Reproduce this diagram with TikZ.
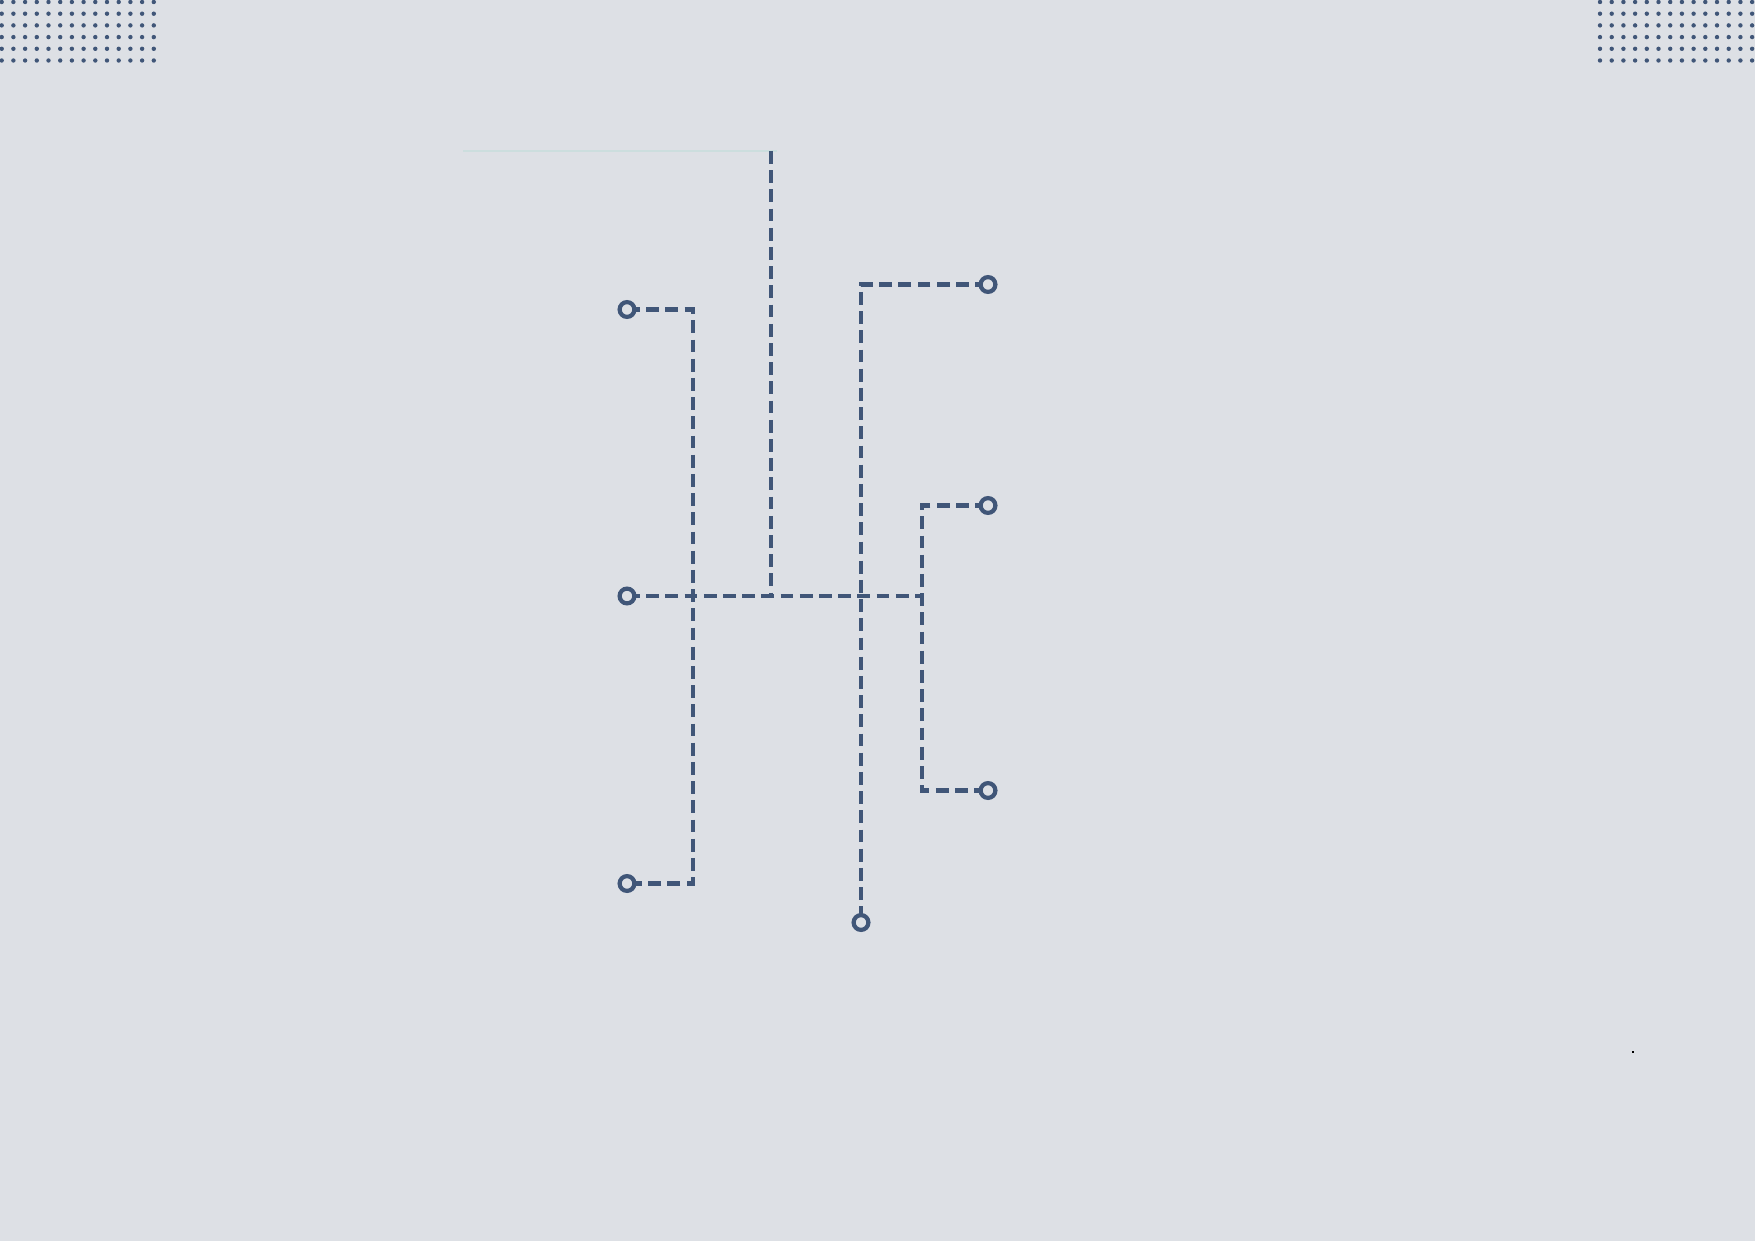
\documentclass[tikz,border=0pt]{standalone}
\definecolor{bg}{RGB}{221,224,229}
\definecolor{ink}{RGB}{64,86,120}
\definecolor{faint}{RGB}{204,222,222}
\tikzset{
  wire/.style={draw=ink, line width=2.1pt, dash pattern=on 6.4pt off 3.2pt},
  port/.style={circle, draw=ink, fill=bg, line width=2.1pt, minimum size=7.4pt, inner sep=0pt, outer sep=0pt},
  dotc/.style={fill=ink}
}
\begin{document}
\begin{tikzpicture}[x=0.5pt, y=-0.5pt]
  \fill[bg] (0,0) rectangle (1755,1241);
  \useasboundingbox (0,0) rectangle (1755,1241);
  % dot grids
  \foreach \i in {0,...,13} {
    \foreach \j in {0,...,5} {
      \fill[dotc] ({1.7+11.7*\i},{2+11.7*\j}) circle (1.1pt);
      \fill[dotc] ({1600+11.7*\i},{2+11.7*\j}) circle (1.1pt);
    }
  }
  % faint top line
  \draw[faint, line width=0.7pt] (463,151) -- (777,151);
  % coordinates
  \coordinate (top) at (771,151);
  \coordinate (tb) at (771,596);
  \coordinate (L1) at (693,309.5);
  \coordinate (L3) at (693,883.5);
  \coordinate (R1) at (922,505.5);
  \coordinate (R2) at (922,596);
  \coordinate (R3) at (922,790.5);
  \coordinate (M1) at (861,284.5);
  % wires (drawn first, ports on top)
  \draw[wire] (627,309.5) -- (L1) -- (L3) -- (627,883.5);
  \draw[wire] (627,596) -- (R2);
  \draw[wire] (988,505.5) -- (R1) -- (R3) -- (988,790.5);
  \draw[wire] (top) -- (tb);
  \draw[wire] (988,284.5) -- (M1) -- (861,922.5);
  % ports
  \node[port] (c1) at (627,309.5) {};
  \node[port] (c2) at (627,596) {};
  \node[port] (c3) at (627,883.5) {};
  \node[port] (c4) at (861,922.5) {};
  \node[port] (c5) at (988,284.5) {};
  \node[port] (c6) at (988,505.5) {};
  \node[port] (c7) at (988,790.5) {};
  % speck
  \fill[black] (1632,1050.5) rectangle (1634,1052.5);
\end{tikzpicture}
\end{document}
